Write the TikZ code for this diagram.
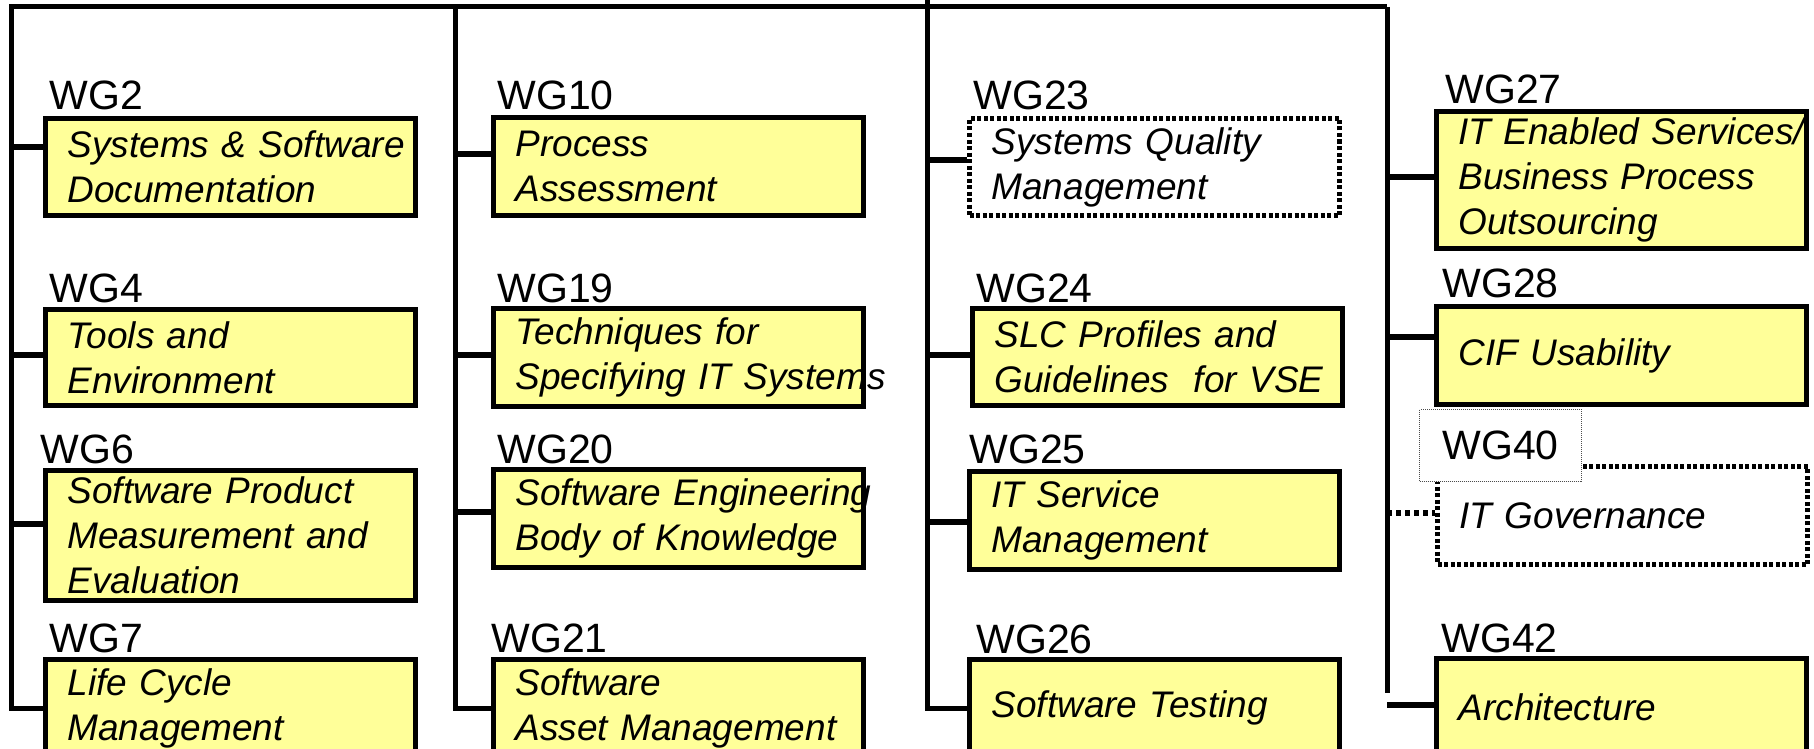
\documentclass[tikz,border=0pt]{standalone}
\usepackage{fontspec}
\setmainfont{Liberation Sans}
\definecolor{wgyellow}{RGB}{255,255,153}

\begin{document}
\begin{tikzpicture}[x=0.5pt,y=-0.5pt,
	wgbox/.style={draw,line width=2.5pt,fill=wgyellow,anchor=north west,minimum width=185pt,
		text width=163pt,inner xsep=11pt,inner ysep=0pt,align=left,
		font=\itshape\fontsize{18.5}{22.5}\selectfont},
	wgdots/.style={wgbox,fill=white,line width=2.5pt,dash pattern=on 2pt off 1.25pt},
	wglabel/.style={anchor=base west,inner sep=0pt,font=\fontsize{20.5}{24}\selectfont},
	trunk/.style={line width=2.5pt},
	stub/.style={line width=3pt}]
				\useasboundingbox (0,0) rectangle (1814,749);
				% boxes
				\node[wgbox,minimum height=48.5pt] (wg2) at (43,116) {\mbox{Systems \& Software}\\Documentation};
				\node[wgbox,minimum height=48pt] (wg4) at (43,307) {Tools and\\Environment};
				\node[wgbox,minimum height=65pt] (wg6) at (43,468) {Software Product\\Measurement and\\Evaluation};
				\node[wgbox,minimum height=48.5pt] (wg7) at (43,657) {Life Cycle\\Management};
				\node[wgbox,minimum height=49pt] (wg10) at (491,115) {Process\\Assessment};
				\node[wgbox,minimum height=49pt] (wg19) at (491,306) {Techniques for\\\mbox{Specifying IT Systems}};
				\node[wgbox,minimum height=49pt] (wg20) at (491,467) {\mbox{Software Engineering}\\\mbox{Body of Knowledge}};
				\node[wgbox,minimum height=48.5pt] (wg21) at (491,657) {Software\\\mbox{Asset Management}};
				\node[wgdots,minimum height=48.5pt] (wg23) at (967,116) {Systems Quality\\Management};
				\node[wgbox,minimum height=48.5pt] (wg24) at (970,306) {SLC Profiles and\\\mbox{Guidelines~ for VSE}};
				\node[wgbox,minimum height=49pt] (wg25) at (967,469) {IT Service\\Management};
				\node[wgbox,minimum height=48.5pt] (wg26) at (967,657) {Software Testing};
				\node[wgbox,minimum height=68.5pt] (wg27) at (1434,109) {\mbox{IT Enabled Services/}\\Business Process\\Outsourcing};
				\node[wgbox,minimum height=49pt] (wg28) at (1434,304) {CIF Usability};
				\node[wgdots,minimum height=49pt] (wg40) at (1435,464) {IT Governance};
				\node[wgbox,minimum height=49pt] (wg42) at (1434,656) {Architecture};
				% group names
				\node[wglabel] (lab2) at (49,110) {WG2};
				\node[wglabel] (lab4) at (49,302) {WG4};
				\node[wglabel] (lab6) at (40,463) {WG6};
				\node[wglabel] (lab7) at (49,652) {WG7};
				\node[wglabel] (lab10) at (497,110) {WG10};
				\node[wglabel] (lab19) at (497,302) {WG19};
				\node[wglabel] (lab20) at (497,463) {WG20};
				\node[wglabel] (lab21) at (491,652) {WG21};
				\node[wglabel] (lab23) at (973,110) {WG23};
				\node[wglabel] (lab24) at (976,302) {WG24};
				\node[wglabel] (lab25) at (969,463) {WG25};
				\node[wglabel] (lab26) at (976,653) {WG26};
				\node[wglabel] (lab27) at (1445,104) {WG27};
				\node[wglabel] (lab28) at (1442,297) {WG28};
				\node[draw=black!70,fill=white,line width=0.5pt,dash pattern=on 0.5pt off 0.5pt,anchor=north west,
					minimum width=81pt,minimum height=36pt,inner sep=0pt,font=\fontsize{20.5}{24}\selectfont] (lab40) at (1419,409) {WG40};
				\node[wglabel] (lab42) at (1441,652) {WG42};
				% bus and columns
				\coordinate (top) at (927,-10);
				\coordinate (bus1) at (11,7);
				\coordinate (bus2) at (455,7);
				\coordinate (bus3) at (927,7);
				\coordinate (bus4) at (1387,7);
				\coordinate (end4) at (1387,693);
				\draw[trunk] (bus4) -- (bus1) |- (wg7.west);
				\draw[trunk] (top) -- (bus3);
				\draw[trunk] (bus2) |- (wg21.west);
				\draw[trunk] (bus3) |- (wg26.west);
				\draw[trunk] (bus4) -- (end4);
				% stubs
				\draw[stub] (bus1 |- 0,147) -- (wg2.west |- 0,147);
				\draw[stub] (bus1 |- 0,355) -- (wg4.west |- 0,355);
				\draw[stub] (bus1 |- 0,524) -- (wg6.west |- 0,524);
				\draw[stub] (bus2 |- 0,154) -- (wg10.west |- 0,154);
				\draw[stub] (bus2 |- 0,355) -- (wg19.west |- 0,355);
				\draw[stub] (bus2 |- 0,512) -- (wg20.west |- 0,512);
				\draw[stub] (bus3 |- 0,160) -- (wg23.west |- 0,160);
				\draw[stub] (bus3 |- 0,355) -- (wg24.west |- 0,355);
				\draw[stub] (bus3 |- 0,522) -- (wg25.west |- 0,522);
				\draw[stub] (bus4 |- 0,177) -- (wg27.west |- 0,177);
				\draw[stub] (bus4 |- 0,337) -- (wg28.west |- 0,337);
				\draw[stub,dash pattern=on 2.5pt off 2pt] (bus4 |- 0,513) -- (wg40.west |- 0,513);
				\draw[stub] (bus4 |- 0,705) -- (wg42.west |- 0,705);
			\end{tikzpicture}
\end{document}
